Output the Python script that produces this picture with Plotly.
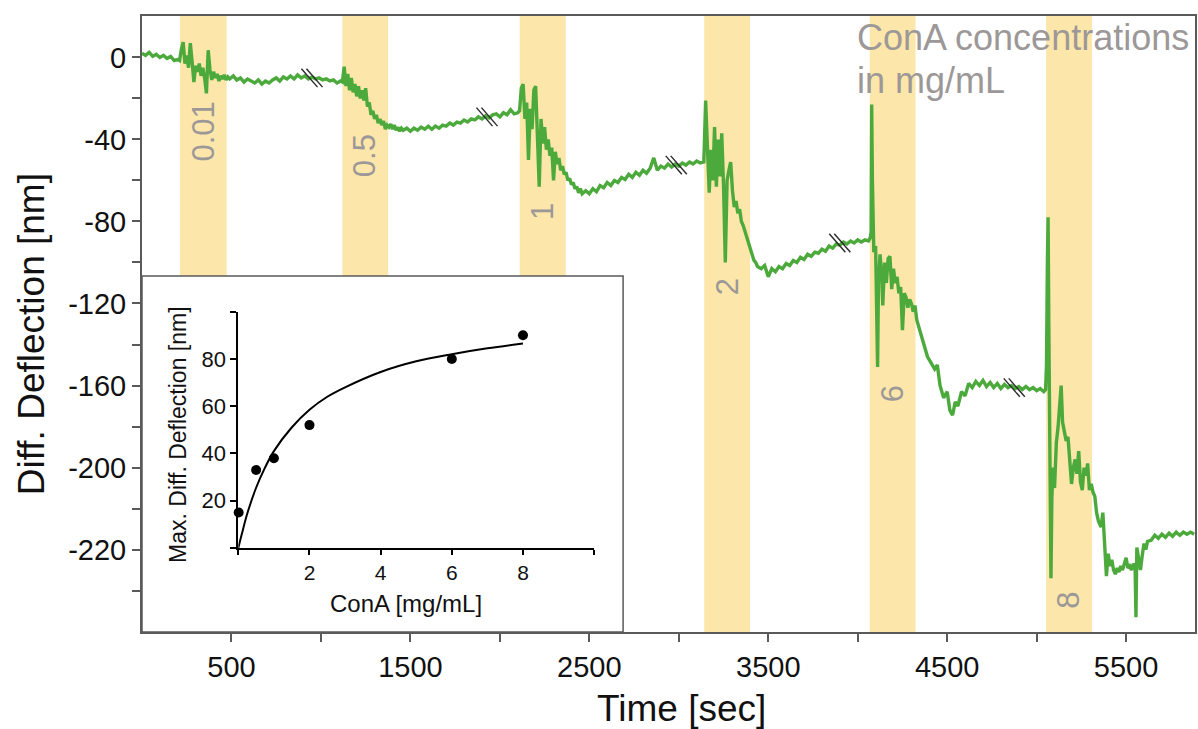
import plotly.graph_objects as go

# ---------------- data ----------------
# main deflection trace, in segments (time [s], deflection [nm])
t_seg0 = list(range(0, 201, 20))
v_seg0 = [2.0, 1.0, 2.5, 0.5, 1.5, 0.0, 1.0, -0.5, 0.5, -1.5, -1.0]

t_band1 = list(range(210, 481, 10))
v_band1 = [-1.5, 4.0, 7.5, -3.0, 1.0, -5.0, 7.0, -2.0, -12.0, -4.0, -7.0, -3.0, -9.0, -5.0,
           -10.0, -17.5, 3.5, -6.0, -11.0, -7.0, -10.0, -8.0, -11.5, -9.0, -10.5, -8.5, -11.0, -9.5]

t_flat1 = list(range(490, 1111, 20))
v_flat1 = [-10.5, -9.0, -11.0, -10.0, -12.0, -10.5, -11.5, -12.5, -11.0, -13.0, -11.5, -12.5,
           -11.0, -10.0, -11.5, -9.5, -10.5, -9.0, -10.5, -8.5, -10.0, -9.0, -10.5, -9.5, -10.5,
           -10.0, -11.0, -10.5, -11.5, -11.0, -12.5, -11.5]

t_band2 = list(range(1120, 1461, 10))
v_band2 = [-12, -4.5, -14, -8, -16, -10, -17, -13, -19, -14, -20, -16, -21, -15, -24, -22, -28,
           -26, -30, -28, -32, -30, -33, -31, -35, -33, -34, -32.5, -35, -33, -35.5, -34, -36,
           -34.5, -35.5]

t_flat2 = list(range(1480, 2101, 20))
v_flat2 = [-34.5, -36, -34.5, -35.5, -34, -35, -33.5, -35, -33.5, -34.5, -33, -33.5, -32, -33,
           -31.5, -32, -30.5, -31.5, -30, -30.5, -29, -30, -28.5, -29.5, -28, -27.5, -29, -27,
           -28, -25.5, -27.5, -27]

t_band3 = list(range(2110, 2461, 10))
v_band3 = [-26, -15, -13, -30, -22, -50, -25, -35, -16, -14, -38, -63, -30, -42, -34, -45, -40,
           -48, -44, -60, -46, -52, -49, -55, -53, -57, -56, -60, -59, -62, -61, -64, -63, -66,
           -64, -66.5]

t_flat3 = list(range(2480, 3121, 20))
v_flat3 = [-65, -66.5, -64, -65.5, -62.5, -63.5, -61, -62.5, -60, -61, -58.5, -59.5, -57, -58.5,
           -56, -57.5, -55, -56.5, -54, -49, -55, -53, -54, -52, -53.5, -52, -53, -51.5, -52.5,
           -51, -52, -50.5, -51.5]

t_band4 = list(range(3140, 3441, 10))
v_band4 = [-51, -21, -50, -66, -45, -60, -34, -63, -40, -58, -37, -62, -100, -60, -55, -51, -65,
           -73, -70, -76, -74, -80, -82, -85, -88, -91, -94, -96, -99, -100, -102]

t_flat4 = list(range(3460, 4061, 20))
v_flat4 = [-103, -101.5, -107, -103, -104.5, -102, -103, -100.5, -101.5, -99, -100, -97.5, -98.5,
           -96, -97, -95, -95.5, -93.5, -94.5, -92, -93, -91, -91.5, -90, -91, -89.5, -90.5, -89,
           -90, -89, -89.5]

t_band5 = [4070, 4075, 4078, 4082, 4090, 4100, 4106, 4111, 4116, 4125, 4135, 4140, 4150, 4160,
           4170, 4180, 4190, 4200, 4210, 4220, 4230, 4240, 4250, 4260, 4270, 4280, 4290, 4300,
           4310, 4320, 4330, 4340]
v_band5 = [-88, -85, -23, -60, -95, -92, -120, -151, -110, -96, -108, -121, -100, -110, -98, -97,
           -113, -103, -110, -107, -115, -112, -133, -115, -117, -122, -118, -120, -124, -121,
           -128, -131]

t_flat5 = [4350, 4370, 4390, 4410, 4430, 4445, 4460, 4480, 4500, 4515, 4530, 4545] + list(range(4560, 5041, 20))
v_flat5 = [-134, -140, -146, -149, -152, -150, -160, -166, -163, -172, -174.5, -168,
           -170, -163, -165, -159, -161, -158, -160, -157.5, -160.5, -158.5, -161, -159, -161.5,
           -159.5, -161, -160, -161.5, -160.5, -162, -160.5, -162, -161, -162.5, -161.5, -163]

t_band6 = [5050, 5055, 5060, 5064, 5068, 5074, 5080, 5085, 5092, 5100, 5110, 5120, 5130, 5137,
           5145, 5155, 5165, 5175, 5185, 5195, 5205, 5215, 5225, 5235, 5245, 5255, 5265, 5275,
           5285, 5295, 5305, 5315, 5325, 5335, 5345]
v_band6 = [-162, -150, -100, -78, -130, -200, -254, -215, -200, -210, -188, -180, -170, -160,
           -178, -182, -187, -185, -200, -208, -200, -196, -203, -192, -207, -211, -200, -204,
           -198, -211, -208, -212, -214, -222, -226]

t_tail = [5360, 5370, 5380, 5390, 5400, 5410, 5420, 5430, 5440, 5450, 5460, 5470, 5480, 5490,
          5500, 5510, 5520, 5530, 5540, 5550, 5555, 5560, 5570, 5580, 5590, 5600, 5610, 5620] + list(range(5640, 5881, 20))
v_tail = [-229, -222, -238, -253, -242, -248, -245, -250, -252, -249, -251, -248, -250, -247,
          -244, -249, -248, -250, -247, -248, -273, -239, -245, -250, -243, -237, -240, -236,
          -235.5, -233, -234.5, -232.5, -234, -232, -233.5, -231.5, -233, -231.5, -232.5, -231.5,
          -232.5]

# ConA injection windows (s) and labels
band_start = [212, 1120, 2111, 3142, 4067, 5053]
band_end = [473, 1376, 2368, 3398, 4323, 5309]
band_labels = ["0.01", "0.5", "1", "2", "6", "8"]
band_label_y = [-36, -48, -75, -112, -164, -265]

# axis-break marks on the trace
break_t = [950, 1928, 2986, 3900, 4875]
break_y = [-10, -29, -52.5, -90.5, -161]

# main axis ticks
x_tickvals = [500, 1000, 1500, 2000, 2500, 3000, 3500, 4000, 4500, 5000, 5500]
x_ticktext = ["500", "", "1500", "", "2500", "", "3500", "", "4500", "", "5500"]
y_tickvals = [0, -20, -40, -60, -80, -100, -120, -140, -160, -180, -200, -220, -240, -260]
y_ticktext = ["0", "", "-40", "", "-80", "", "-120", "", "-160", "", "-200", "", "-220", ""]

# inset: max differential deflection vs ConA concentration
conc = [0.01, 0.5, 1, 2, 6, 8]
max_defl = [15, 33, 38, 52, 80, 90]
fit_conc = [0, 0.1, 0.25, 0.5, 0.75, 1, 1.5, 2, 2.5, 3, 4, 5, 6, 7, 8]
fit_defl = [0, 6, 14.5, 25.5, 34, 41, 51, 58.5, 64, 68, 74.5, 79, 82, 84.5, 86.5]
inset_xtickvals = [0, 2, 4, 6, 8, 10]
inset_xticktext = ["", "2", "4", "6", "8", ""]
inset_ytickvals = [0, 20, 40, 60, 80, 100]
inset_yticktext = ["", "20", "40", "60", "80", ""]

# ---------------- styling / layout helpers ----------------
W, H = 1198, 729
L, R, T, B = 142, 1197, 16, 632   # plot area in pixels


def px_x(p):
    return (p - L) / (R - L)


def px_y(p):
    return (B - p) / (B - T)


FONT = "Arial, Liberation Sans, Helvetica, sans-serif"
GREEN = "#4CAA3C"
YELLOW = "#FCE6AA"
GRAY_TXT = "#9c9898"
AX = "#5a5a5a"

t_all = (t_seg0 + t_band1 + t_flat1 + t_band2 + t_flat2 + t_band3 + t_flat3 + t_band4 +
         t_flat4 + t_band5 + t_flat5 + t_band6 + t_tail)
v_all = (v_seg0 + v_band1 + v_flat1 + v_band2 + v_flat2 + v_band3 + v_flat3 + v_band4 +
         v_flat4 + v_band5 + v_flat5 + v_band6 + v_tail)

fig = go.Figure()
fig.add_trace(go.Scatter(x=t_all, y=v_all, mode="lines",
                         line=dict(color=GREEN, width=3.4), xaxis="x", yaxis="y",
                         showlegend=False, hoverinfo="skip"))
fig.add_trace(go.Scatter(x=fit_conc, y=fit_defl, mode="lines", line=dict(color="black", width=2, shape="spline"),
                         xaxis="x2", yaxis="y2", showlegend=False, hoverinfo="skip"))
fig.add_trace(go.Scatter(x=conc, y=max_defl, mode="markers", marker=dict(color="black", size=10),
                         xaxis="x2", yaxis="y2", showlegend=False, cliponaxis=False))

shapes = []
for s, e in zip(band_start, band_end):
    shapes.append(dict(type="rect", xref="x", yref="paper", x0=s, x1=e, y0=0, y1=1,
                       fillcolor=YELLOW, line=dict(width=0), layer="below"))
# inset white box
shapes.append(dict(type="rect", xref="paper", yref="paper", x0=0, x1=px_x(624), y0=0, y1=px_y(276),
                   fillcolor="white", line=dict(color=AX, width=1.5), layer="below"))
# break marks
for bt, by in zip(break_t, break_y):
    for off in (-14, 14):
        shapes.append(dict(type="line", xref="x", yref="y", x0=bt + off - 45, y0=by + 4.5,
                           x1=bt + off + 45, y1=by - 4.5, line=dict(color="#2a2a2a", width=1.4),
                           layer="above"))

annotations = []
for s, e, lab, ly in zip(band_start, band_end, band_labels, band_label_y):
    annotations.append(dict(x=(s + e) / 2, y=ly, xref="x", yref="y", text=lab, showarrow=False,
                            textangle=-90, font=dict(family=FONT, size=31, color=GRAY_TXT),
                            xanchor="center", yanchor="middle"))
annotations += [
    dict(x=px_x(856), y=px_y(38), xref="paper", yref="paper", text="ConA concentrations",
         showarrow=False, xanchor="left", yanchor="middle",
         font=dict(family=FONT, size=36, color=GRAY_TXT)),
    dict(x=px_x(856), y=px_y(80), xref="paper", yref="paper", text="in mg/mL",
         showarrow=False, xanchor="left", yanchor="middle",
         font=dict(family=FONT, size=36, color=GRAY_TXT)),
    dict(x=px_x(32), y=px_y(334), xref="paper", yref="paper", text="Diff. Deflection [nm]",
         showarrow=False, textangle=-90, xanchor="center", yanchor="middle",
         font=dict(family=FONT, size=37, color="#111")),
    dict(x=px_x(683), y=px_y(708), xref="paper", yref="paper", text="Time [sec]",
         showarrow=False, xanchor="center", yanchor="middle",
         font=dict(family=FONT, size=37, color="#111")),
    dict(x=px_x(178), y=px_y(434), xref="paper", yref="paper", text="Max. Diff. Deflection [nm]",
         showarrow=False, textangle=-90, xanchor="center", yanchor="middle",
         font=dict(family=FONT, size=23, color="#111")),
    dict(x=px_x(407), y=px_y(603), xref="paper", yref="paper", text="ConA [mg/mL]",
         showarrow=False, xanchor="center", yanchor="middle",
         font=dict(family=FONT, size=24, color="#111")),
]

fig.update_layout(
    width=W, height=H,
    margin=dict(l=L, r=W - R, t=T, b=H - B, pad=0),
    paper_bgcolor="white", plot_bgcolor="white",
    showlegend=False,
    xaxis=dict(domain=[0, 1], range=[0, 5885], tickvals=x_tickvals, ticktext=x_ticktext,
               showgrid=False, zeroline=False, showline=True, mirror=True, linecolor=AX,
               linewidth=2, ticks="outside", ticklen=8, tickwidth=1.5, tickcolor=AX,
               tickfont=dict(family=FONT, size=29, color="#111"), anchor="y"),
    yaxis=dict(domain=[0, 1], range=[-280.2, 20.2], tickvals=y_tickvals, ticktext=y_ticktext,
               showgrid=False, zeroline=False, showline=True, mirror=True, linecolor=AX,
               linewidth=2, ticks="outside", ticklen=8, tickwidth=1.5, tickcolor=AX,
               tickfont=dict(family=FONT, size=29, color="#111"), anchor="x"),
    xaxis2=dict(domain=[px_x(238.5), px_x(595)], range=[0, 10], anchor="y2",
                tickvals=inset_xtickvals, ticktext=inset_xticktext, showgrid=False, zeroline=False,
                showline=True, linecolor="black", linewidth=2, ticks="outside", ticklen=5,
                tickwidth=2, tickcolor="black", tickfont=dict(family=FONT, size=21, color="#111")),
    yaxis2=dict(domain=[px_y(548), px_y(311.7)], range=[0, 100], anchor="x2",
                tickvals=inset_ytickvals, ticktext=inset_yticktext, showgrid=False, zeroline=False,
                showline=True, linecolor="black", linewidth=2, ticks="outside", ticklen=6,
                tickwidth=2, tickcolor="black", tickfont=dict(family=FONT, size=22, color="#111")),
    shapes=shapes,
    annotations=annotations,
)

fig.write_html("out.html")
